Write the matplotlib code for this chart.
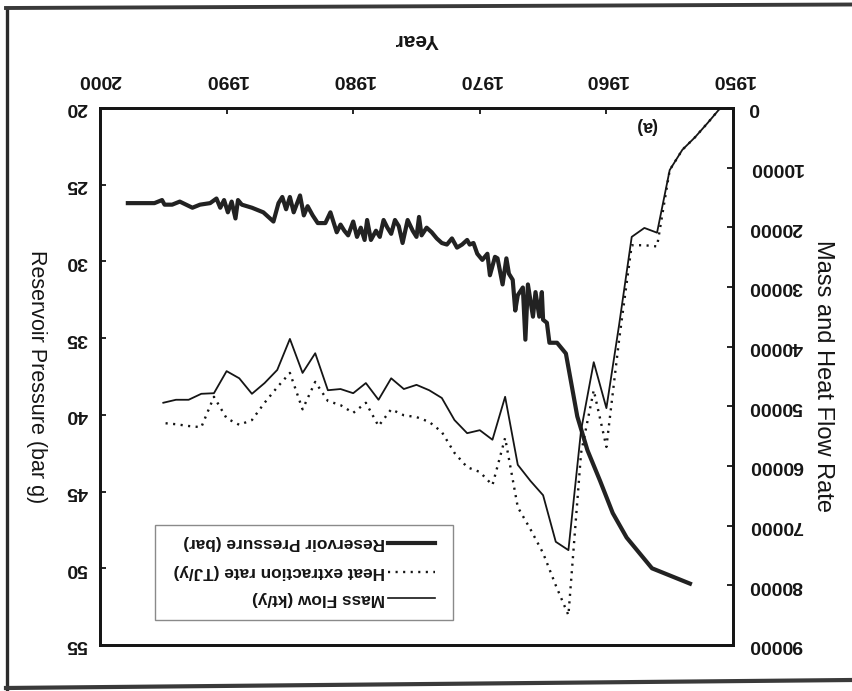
import matplotlib
matplotlib.use("Agg")
import matplotlib.pyplot as plt
from matplotlib.lines import Line2D
from matplotlib.patches import Rectangle

plt.rcParams['font.family'] = ['Liberation Sans', 'DejaVu Sans']

# ---------------- data ----------------
pressure_years = [1953.4, 1956.4, 1958.4, 1959.5, 1960.5, 1961.5, 1962.3, 1963.2, 1963.9, 1964.5,
                  1964.7, 1965.0, 1965.1, 1965.3, 1965.6, 1965.8, 1966.2, 1966.4, 1966.6, 1967.0,
                  1967.2, 1967.4, 1967.7, 1967.9, 1968.2, 1968.6, 1968.8, 1969.2, 1969.4, 1969.8,
                  1970.2, 1970.5, 1970.8, 1971.0, 1971.4, 1971.8, 1972.2, 1972.6, 1973.0, 1973.4,
                  1973.8, 1974.2, 1974.6, 1974.8, 1975.0, 1975.3, 1975.7, 1976.1, 1976.4, 1976.7,
                  1977.0, 1977.3, 1977.6, 1977.9, 1978.2, 1978.6, 1978.9, 1979.1, 1979.4, 1979.7,
                  1980.0, 1980.4, 1980.7, 1981.0, 1981.3, 1981.8, 1982.2, 1982.8, 1983.2, 1983.6,
                  1983.9, 1984.2, 1984.7, 1985.0, 1985.3, 1985.6, 1985.9, 1986.3, 1987.1, 1988.0,
                  1988.8, 1989.1, 1989.3, 1989.6, 1989.9, 1990.2, 1990.5, 1990.8, 1991.3, 1992.1,
                  1992.7, 1993.7, 1994.3, 1994.9, 1995.1, 1995.7, 1997.8]
pressure_bar = [51.0, 50.0, 48.0, 46.4, 44.3, 42.3, 40.1, 36.0, 35.3, 35.3,
                34.0, 33.8, 32.0, 33.6, 32.0, 33.6, 31.5, 35.1, 31.7, 32.2,
                33.2, 31.2, 30.8, 29.8, 31.5, 29.8, 29.7, 30.9, 29.5, 29.9,
                29.5, 28.8, 28.9, 28.6, 28.9, 29.1, 28.5, 28.9, 28.8, 28.5,
                28.1, 27.8, 28.3, 27.1, 28.4, 28.0, 27.3, 28.8, 27.7, 27.3,
                28.2, 27.8, 27.3, 28.4, 28.0, 28.6, 27.3, 28.6, 27.8, 28.4,
                27.4, 28.3, 28.0, 27.6, 28.1, 26.8, 27.5, 27.5, 27.0, 26.4,
                27.0, 25.7, 26.8, 25.8, 26.6, 25.8, 26.2, 27.4, 26.8, 26.5,
                26.3, 26.0, 27.2, 26.1, 26.8, 26.0, 26.5, 25.9, 26.2, 26.3,
                26.5, 26.1, 26.3, 26.3, 26.0, 26.2, 26.2]

flow_years = list(range(1951, 1996))
mass_flow = [0, 2500, 4900, 7000, 10400, 20900, 20100, 21600, 36400, 50300,
             42600, 54000, 74100, 72700, 64900, 62500, 59800, 48400, 55600, 54000,
             54500, 52300, 48600, 47300, 46400, 47100, 45300, 48900, 46100, 47800,
             47100, 47300, 41100, 44400, 38700, 43900, 46100, 47900, 45300, 44100,
             47800, 47900, 48900, 48900, 49400]
heat_rate = [0, 2500, 4900, 7000, 10400, 23200, 23000, 23000, 38900, 56800,
             47300, 57800, 85000, 80000, 74600, 70600, 66900, 55300, 63200, 61000,
             60200, 57800, 54300, 52600, 51800, 51500, 50500, 53300, 49400, 51100,
             49800, 49100, 45900, 50500, 44400, 46800, 49400, 52300, 53100, 52000,
             48400, 53500, 53300, 53000, 52800]

year_ticks = [1950, 1960, 1970, 1980, 1990, 2000]
pressure_ticks = [20, 25, 30, 35, 40, 45, 50, 55]
flow_ticks = [0, 10000, 20000, 30000, 40000, 50000, 60000, 70000, 80000, 90000]

label_pressure = 'Reservoir Pressure (bar)'
label_heat = 'Heat extraction rate (TJ/y)'
label_mass = 'Mass Flow (kt/y)'

# ---------------- figure ----------------
W, H = 852, 691
fig = plt.figure(figsize=(W / 100, H / 100), dpi=100)
fig.patch.set_facecolor('white')

ax = fig.add_axes([100 / W, 1 - 645 / H, 633 / W, 537 / H])
ax2 = ax.twinx()

ink = '#151515'
tick_font = dict(fontsize=14, fontweight='bold', color=ink)

# x axis (years) on top, reversed, labels upside down
ax.set_xlim(2000, 1950)
ax.xaxis.tick_top()
ax.set_xticks(year_ticks)
ax.set_xticklabels([str(v) for v in year_ticks], rotation=180, **tick_font)
ax.tick_params(axis='x', which='both', direction='in', length=4, width=1.3,
               top=True, bottom=False, pad=14.5, colors=ink)

# left axis: pressure, reversed
ax.set_ylim(55, 20)
ax.set_yticks(pressure_ticks)
ax.set_yticklabels([str(v) for v in pressure_ticks], rotation=180, va='center', **tick_font)
ax.tick_params(axis='y', direction='in', length=4, width=1.3, pad=9, colors=ink)

# right axis: flow, reversed
ax2.set_ylim(90000, 0)
ax2.set_yticks(flow_ticks)
ax2.set_yticklabels([str(v) for v in flow_ticks], rotation=180, va='center', **tick_font)
ax2.tick_params(axis='y', direction='in', length=4, width=1.3, pad=11.5, colors=ink)

for a in (ax, ax2):
    for s in a.spines.values():
        s.set_linewidth(2.0)
        s.set_color(ink)

# axis titles
ax.set_xlabel('Year', rotation=180, va='center', ha='center', fontsize=15,
              fontweight='bold', color=ink)
ax.xaxis.set_label_coords(0.5, 1.127)
ax.set_ylabel('Reservoir Pressure (bar g)', rotation=270, va='center', ha='center',
              fontsize=15.5, color=ink)
ax.yaxis.set_label_coords(-0.100, 0.5)
ax2.set_ylabel('Mass and Heat Flow Rate', rotation=270, va='center', ha='center',
               fontsize=17, color=ink)
ax2.yaxis.set_label_coords(1.142, 0.5)

# data
ax.plot(pressure_years, pressure_bar, color='#222222', lw=3.0, solid_joinstyle='round')
ax2.plot(flow_years, mass_flow, color=ink, lw=1.3)
ax2.plot(flow_years, heat_rate, color=ink, lw=1.7, dashes=(0.9, 2.3))

# panel tag
ax2.text(0.8626, 0.968, '(a)', transform=ax2.transAxes, rotation=180,
         ha='center', va='center', fontsize=13, fontweight='bold', color=ink)

# legend (upside down, drawn manually)
ax2.add_patch(Rectangle((0.0869, 0.0466), 0.4708, 0.1769, transform=ax2.transAxes,
                        facecolor='white', edgecolor='#8a8a8a', lw=1.0, zorder=5))
rows = [(0.190, label_pressure, dict(lw=3.0, color='#222222')),
        (0.136, label_heat, dict(lw=1.7, color=ink, dashes=(0.9, 2.3))),
        (0.0875, label_mass, dict(lw=1.2, color=ink))]
for yy, txt, sty in rows:
    ax2.add_line(Line2D([0.455, 0.529], [yy, yy], transform=ax2.transAxes, zorder=6, **sty))
    ax2.text(0.450, yy, txt, transform=ax2.transAxes, rotation=180, ha='right',
             va='center', fontsize=12.4, fontweight='bold', color=ink, zorder=6)

# scanned page border
def fx(px):
    return px / W

def fy(py):
    return 1 - py / H

fig.add_artist(Line2D([fx(7), fx(7)], [fy(8), fy(690)], color='#2b2b2b', lw=2.4))
fig.add_artist(Line2D([fx(6), fx(852)], [fy(8), fy(4.5)], color='#3a3a3a', lw=2.8))
fig.add_artist(Line2D([fx(6), fx(852)], [fy(688), fy(680)], color='#3a3a3a', lw=3.0))

fig.savefig('out.png', dpi=100, facecolor='white')
